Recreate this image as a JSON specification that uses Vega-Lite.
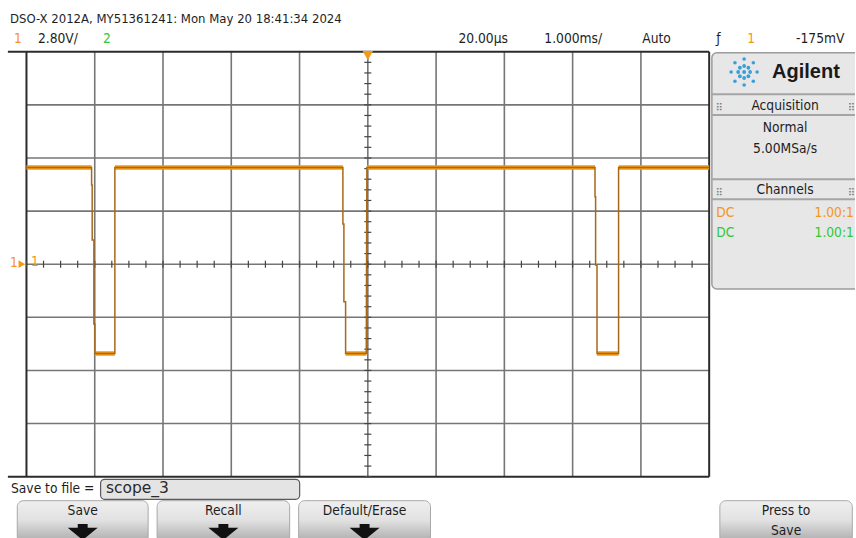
{
  "$schema": "https://vega.github.io/schema/vega-lite/v6.json",
  "width": 856,
  "height": 538,
  "autosize": {"type": "fit", "contains": "padding"},
  "padding": 0,
  "background": "white",
  "view": {"stroke": null},
  "config": {"font": "Liberation Sans Narrow, DejaVu Sans Condensed, Liberation Sans, sans-serif"},
  "datasets": {
    "panel": [{"t": 5.0395, "t2": 7.3, "v": 11.147, "v2": -1.307}],
    "panelLines": [
      {"t": 5.0395, "t2": 7.2, "v": 8.955, "v2": 8.955},
      {"t": 5.0395, "t2": 7.2, "v": 7.864, "v2": 7.864},
      {"t": 5.0395, "t2": 7.2, "v": 4.475, "v2": 4.475},
      {"t": 5.0395, "t2": 7.2, "v": 3.421, "v2": 3.421}
    ],
    "textbox": [{"t": -3.9144, "t2": -0.9985, "v": -11.337, "v2": -12.391}],
    "buttons": [
      {"t": -5.1346, "t2": -3.218, "v": -12.465, "v2": -14.7},
      {"t": -3.0863, "t2": -1.1448, "v": -12.465, "v2": -14.7},
      {"t": -1.0132, "t2": 0.9181, "v": -12.465, "v2": -14.7},
      {"t": 5.1566, "t2": 7.0966, "v": -12.465, "v2": -14.7}
    ],
    "arrows": [
      {"t": -4.1763, "v": -14.062},
      {"t": -2.1156, "v": -14.062},
      {"t": -0.0475, "v": -14.062}
    ],
    "grid": [
      {"t": -4, "t2": -4, "v": -11.2, "v2": 11.2},
      {"t": -3, "t2": -3, "v": -11.2, "v2": 11.2},
      {"t": -2, "t2": -2, "v": -11.2, "v2": 11.2},
      {"t": -1, "t2": -1, "v": -11.2, "v2": 11.2},
      {"t": 0, "t2": 0, "v": -11.2, "v2": 11.2},
      {"t": 1, "t2": 1, "v": -11.2, "v2": 11.2},
      {"t": 2, "t2": 2, "v": -11.2, "v2": 11.2},
      {"t": 3, "t2": 3, "v": -11.2, "v2": 11.2},
      {"t": 4, "t2": 4, "v": -11.2, "v2": 11.2},
      {"t": -5, "t2": 5, "v": -8.4, "v2": -8.4},
      {"t": -5, "t2": 5, "v": -5.6, "v2": -5.6},
      {"t": -5, "t2": 5, "v": -2.8, "v2": -2.8},
      {"t": -5, "t2": 5, "v": 0, "v2": 0},
      {"t": -5, "t2": 5, "v": 2.8, "v2": 2.8},
      {"t": -5, "t2": 5, "v": 5.6, "v2": 5.6},
      {"t": -5, "t2": 5, "v": 8.4, "v2": 8.4}
    ],
    "border": [
      {"t": -5, "t2": -5, "v": -11.2, "v2": 11.2},
      {"t": 5, "t2": 5, "v": -11.2, "v2": 11.2},
      {"t": -5.2722, "t2": 5, "v": 11.2, "v2": 11.2},
      {"t": -5.2722, "t2": 5, "v": -11.2, "v2": -11.2}
    ],
    "xticks": [
      {"t": -5, "v": 0}, {"t": -4.75, "v": 0}, {"t": -4.5, "v": 0}, {"t": -4.25, "v": 0},
      {"t": -4, "v": 0}, {"t": -3.75, "v": 0}, {"t": -3.5, "v": 0}, {"t": -3.25, "v": 0},
      {"t": -3, "v": 0}, {"t": -2.75, "v": 0}, {"t": -2.5, "v": 0}, {"t": -2.25, "v": 0},
      {"t": -2, "v": 0}, {"t": -1.75, "v": 0}, {"t": -1.5, "v": 0}, {"t": -1.25, "v": 0},
      {"t": -1, "v": 0}, {"t": -0.75, "v": 0}, {"t": -0.5, "v": 0}, {"t": -0.25, "v": 0},
      {"t": 0, "v": 0}, {"t": 0.25, "v": 0}, {"t": 0.5, "v": 0}, {"t": 0.75, "v": 0},
      {"t": 1, "v": 0}, {"t": 1.25, "v": 0}, {"t": 1.5, "v": 0}, {"t": 1.75, "v": 0},
      {"t": 2, "v": 0}, {"t": 2.25, "v": 0}, {"t": 2.5, "v": 0}, {"t": 2.75, "v": 0},
      {"t": 3, "v": 0}, {"t": 3.25, "v": 0}, {"t": 3.5, "v": 0}, {"t": 3.75, "v": 0},
      {"t": 4, "v": 0}, {"t": 4.25, "v": 0}, {"t": 4.5, "v": 0}, {"t": 4.75, "v": 0},
      {"t": 5, "v": 0}
    ],
    "yticks": [
      {"t": 0, "v": -11.2}, {"t": 0, "v": -10.64}, {"t": 0, "v": -10.08}, {"t": 0, "v": -9.52},
      {"t": 0, "v": -8.96}, {"t": 0, "v": -8.4}, {"t": 0, "v": -7.84}, {"t": 0, "v": -7.28},
      {"t": 0, "v": -6.72}, {"t": 0, "v": -6.16}, {"t": 0, "v": -5.6}, {"t": 0, "v": -5.04},
      {"t": 0, "v": -4.48}, {"t": 0, "v": -3.92}, {"t": 0, "v": -3.36}, {"t": 0, "v": -2.8},
      {"t": 0, "v": -2.24}, {"t": 0, "v": -1.68}, {"t": 0, "v": -1.12}, {"t": 0, "v": -0.56},
      {"t": 0, "v": 0}, {"t": 0, "v": 0.56}, {"t": 0, "v": 1.12}, {"t": 0, "v": 1.68},
      {"t": 0, "v": 2.24}, {"t": 0, "v": 2.8}, {"t": 0, "v": 3.36}, {"t": 0, "v": 3.92},
      {"t": 0, "v": 4.48}, {"t": 0, "v": 5.04}, {"t": 0, "v": 5.6}, {"t": 0, "v": 6.16},
      {"t": 0, "v": 6.72}, {"t": 0, "v": 7.28}, {"t": 0, "v": 7.84}, {"t": 0, "v": 8.4},
      {"t": 0, "v": 8.96}, {"t": 0, "v": 9.52}, {"t": 0, "v": 10.08}, {"t": 0, "v": 10.64},
      {"t": 0, "v": 11.2}
    ],
    "trace": [
      {"i": 0, "t": -5, "v": 5.097},
      {"i": 1, "t": -4.0461, "v": 5.097},
      {"i": 2, "t": -4.0461, "v": 4.174},
      {"i": 3, "t": -4.0373, "v": 4.174},
      {"i": 4, "t": -4.0373, "v": 1.275},
      {"i": 5, "t": -4.0124, "v": 1.275},
      {"i": 6, "t": -4.0124, "v": -3.152},
      {"i": 7, "t": -3.9978, "v": -3.152},
      {"i": 8, "t": -3.9978, "v": -4.707},
      {"i": 9, "t": -3.7052, "v": -4.707},
      {"i": 10, "t": -3.7052, "v": 5.097},
      {"i": 11, "t": -0.365, "v": 5.097},
      {"i": 12, "t": -0.365, "v": 2.119},
      {"i": 13, "t": -0.3504, "v": 2.119},
      {"i": 14, "t": -0.3504, "v": -1.976},
      {"i": 15, "t": -0.3255, "v": -1.976},
      {"i": 16, "t": -0.3255, "v": -4.707},
      {"i": 17, "t": -0.0227, "v": -4.707},
      {"i": 18, "t": -0.0139, "v": 5.097},
      {"i": 19, "t": 3.3277, "v": 5.097},
      {"i": 20, "t": 3.3277, "v": 3.558},
      {"i": 21, "t": 3.3365, "v": 3.558},
      {"i": 22, "t": 3.3365, "v": -0.042},
      {"i": 23, "t": 3.357, "v": -0.042},
      {"i": 24, "t": 3.357, "v": -4.707},
      {"i": 25, "t": 3.673, "v": -4.707},
      {"i": 26, "t": 3.673, "v": 5.097},
      {"i": 27, "t": 5, "v": 5.097}
    ],
    "levels": [
      {"t": -5, "t2": -4.0461, "v": 5.097},
      {"t": -3.7052, "t2": -0.365, "v": 5.097},
      {"t": -0.0139, "t2": 3.3277, "v": 5.097},
      {"t": 3.673, "t2": 5, "v": 5.097},
      {"t": -3.9978, "t2": -3.7052, "v": -4.707},
      {"t": -0.3255, "t2": -0.0227, "v": -4.707},
      {"t": 3.357, "t2": 3.673, "v": -4.707}
    ],
    "trigger": [{"t": 0, "v": 11.0}],
    "chmarker": [{"t": -5.0671, "v": 0}],
    "logo": [
      {"t": 5.5121, "v": 10.13, "ring": "c"},
      {"t": 5.5999, "v": 10.13, "ring": "i"},
      {"t": 5.5742, "v": 10.3536, "ring": "i"},
      {"t": 5.5121, "v": 10.4462, "ring": "i"},
      {"t": 5.45, "v": 10.3536, "ring": "i"},
      {"t": 5.4243, "v": 10.13, "ring": "i"},
      {"t": 5.45, "v": 9.9064, "ring": "i"},
      {"t": 5.5121, "v": 9.8138, "ring": "i"},
      {"t": 5.5742, "v": 9.9064, "ring": "i"},
      {"t": 5.7023, "v": 10.13, "ring": "o"},
      {"t": 5.6466, "v": 10.6145, "ring": "o"},
      {"t": 5.5121, "v": 10.8152, "ring": "o"},
      {"t": 5.3776, "v": 10.6145, "ring": "o"},
      {"t": 5.3219, "v": 10.13, "ring": "o"},
      {"t": 5.3776, "v": 9.6455, "ring": "o"},
      {"t": 5.5121, "v": 9.4448, "ring": "o"},
      {"t": 5.6466, "v": 9.6455, "ring": "o"}
    ],
    "headText": [
      {"t": -5.2415, "v": 12.713, "label": "DSO-X 2012A, MY51361241: Mon May 20 18:41:34 2024", "tone": "dark"}
    ],
    "leftText": [
      {"t": -5.1829, "v": 11.659, "label": "1", "tone": "orange"},
      {"t": -4.8318, "v": 11.659, "label": "2.80V/", "tone": "dark"},
      {"t": -3.8807, "v": 11.659, "label": "2", "tone": "green"},
      {"t": 1.3277, "v": 11.659, "label": "20.00µs", "tone": "dark"},
      {"t": 2.586, "v": 11.659, "label": "1.000ms/", "tone": "dark"},
      {"t": 4.0198, "v": 11.659, "label": "Auto", "tone": "dark"},
      {"t": 5.1024, "v": 11.659, "label": "ƒ", "tone": "dark"},
      {"t": 5.556, "v": 11.659, "label": "1", "tone": "orange"},
      {"t": 6.2729, "v": 11.659, "label": "-175mV", "tone": "dark"},
      {"t": 5.1024, "v": 2.504, "label": "DC", "tone": "orange"},
      {"t": 5.1024, "v": 1.418, "label": "DC", "tone": "green"},
      {"t": -5.2268, "v": -12.059, "label": "Save to file =", "tone": "dark"},
      {"t": -5.2415, "v": -0.148, "label": "1", "tone": "orange"},
      {"t": -4.9342, "v": -0.095, "label": "1", "tone": "orange"}
    ],
    "rightText": [
      {"t": 7.1207, "v": 2.504, "label": "1.00:1", "tone": "orange"},
      {"t": 7.1207, "v": 1.418, "label": "1.00:1", "tone": "green"}
    ],
    "centerText": [
      {"t": 6.1119, "v": 8.127, "label": "Acquisition", "tone": "dark"},
      {"t": 6.1119, "v": 6.984, "label": "Normal", "tone": "dark"},
      {"t": 6.1119, "v": 5.877, "label": "5.00MSa/s", "tone": "dark"},
      {"t": 6.1119, "v": 3.684, "label": "Channels", "tone": "dark"},
      {"t": -4.1763, "v": -13.219, "label": "Save", "tone": "dark"},
      {"t": -2.1156, "v": -13.219, "label": "Recall", "tone": "dark"},
      {"t": -0.0475, "v": -13.219, "label": "Default/Erase", "tone": "dark"},
      {"t": 6.1266, "v": -13.219, "label": "Press to", "tone": "dark"},
      {"t": 6.1266, "v": -14.273, "label": "Save", "tone": "dark"}
    ],
    "grips": [
      {"t": 5.1463, "v": 8.23, "label": "⠿"},
      {"t": 7.0849, "v": 8.23, "label": "⠿"},
      {"t": 5.1463, "v": 3.753, "label": "⠿"},
      {"t": 7.0849, "v": 3.753, "label": "⠿"}
    ],
    "brand": [{"t": 5.9217, "v": 9.798, "label": "Agilent"}],
    "filename": [{"t": -3.8368, "v": -12.059, "label": "scope_3"}]
  },
  "encoding": {
    "x": {"field": "t", "type": "quantitative", "scale": {"domain": [-5.3877, 7.136], "nice": false, "zero": false}, "axis": null},
    "y": {"field": "v", "type": "quantitative", "scale": {"domain": [-14.431, 13.925], "nice": false, "zero": false}, "axis": null}
  },
  "layer": [
    {
      "data": {"name": "panel"},
      "mark": {"type": "rect", "clip": true, "fill": "#e7e7e7", "stroke": "#9c9c9c", "strokeWidth": 1.5, "cornerRadius": 5},
      "encoding": {"x2": {"field": "t2"}, "y2": {"field": "v2"}}
    },
    {
      "data": {"name": "panelLines"},
      "mark": {"type": "rule", "clip": true, "color": "#a5a5a5", "strokeWidth": 2},
      "encoding": {"x2": {"field": "t2"}, "y2": {"field": "v2"}}
    },
    {
      "data": {"name": "textbox"},
      "mark": {"type": "rect", "fill": "#e4e4e4", "stroke": "#5a5a5a", "strokeWidth": 1.2, "cornerRadius": 4},
      "encoding": {"x2": {"field": "t2"}, "y2": {"field": "v2"}}
    },
    {
      "data": {"name": "buttons"},
      "mark": {
        "type": "rect",
        "clip": true,
        "cornerRadius": 6,
        "stroke": "#a8a8a8",
        "strokeWidth": 1,
        "fill": {"gradient": "linear", "x1": 0, "y1": 0, "x2": 0, "y2": 1, "stops": [{"offset": 0, "color": "#efefef"}, {"offset": 0.45, "color": "#e2e2e2"}, {"offset": 1, "color": "#a9a9a9"}]}
      },
      "encoding": {"x2": {"field": "t2"}, "y2": {"field": "v2"}}
    },
    {
      "data": {"name": "arrows"},
      "mark": {"type": "point", "clip": true, "filled": true, "opacity": 1, "color": "#111111", "size": 900, "shape": "M-0.33,-0.47 L0.33,-0.47 L0.33,-0.22 L1,-0.22 L0,0.6 L-1,-0.22 L-0.33,-0.22 Z"}
    },
    {
      "data": {"name": "grid"},
      "mark": {"type": "rule", "color": "#767676", "strokeWidth": 1.6},
      "encoding": {"x2": {"field": "t2"}, "y2": {"field": "v2"}}
    },
    {
      "data": {"name": "border"},
      "mark": {"type": "rule", "color": "#2b2b2b", "strokeWidth": 2},
      "encoding": {"x2": {"field": "t2"}, "y2": {"field": "v2"}}
    },
    {
      "data": {"name": "xticks"},
      "mark": {"type": "tick", "orient": "vertical", "size": 7, "thickness": 1.2, "color": "#444444", "opacity": 1}
    },
    {
      "data": {"name": "yticks"},
      "mark": {"type": "tick", "orient": "horizontal", "size": 7, "thickness": 1.2, "color": "#444444", "opacity": 1}
    },
    {
      "data": {"name": "levels"},
      "mark": {"type": "rule", "color": "#f39a12", "strokeWidth": 4.5},
      "encoding": {"x2": {"field": "t2"}}
    },
    {
      "data": {"name": "trace"},
      "mark": {"type": "line", "color": "#a8681a", "strokeWidth": 1.5},
      "encoding": {"order": {"field": "i", "type": "quantitative"}}
    },
    {
      "data": {"name": "trigger"},
      "mark": {"type": "point", "shape": "triangle-down", "filled": true, "opacity": 1, "color": "#f39a12", "size": 110}
    },
    {
      "data": {"name": "chmarker"},
      "mark": {"type": "point", "shape": "triangle-right", "filled": true, "opacity": 1, "color": "#f39a12", "size": 60}
    },
    {
      "data": {"name": "logo"},
      "mark": {"type": "point", "filled": true, "opacity": 1, "color": "#3a9fd8"},
      "encoding": {"size": {"field": "ring", "type": "ordinal", "scale": {"domain": ["c", "i", "o"], "range": [16, 13, 8]}, "legend": null}}
    },
    {
      "data": {"name": "headText"},
      "mark": {"type": "text", "align": "left", "baseline": "alphabetic", "fontSize": 13},
      "encoding": {
        "text": {"field": "label"},
        "color": {"field": "tone", "type": "nominal", "scale": {"domain": ["dark", "orange", "green"], "range": ["#1e1e1e", "#f5961c", "#34c734"]}, "legend": null}
      }
    },
    {
      "data": {"name": "leftText"},
      "mark": {"type": "text", "align": "left", "baseline": "alphabetic", "fontSize": 13.7},
      "encoding": {
        "text": {"field": "label"},
        "color": {"field": "tone", "type": "nominal", "scale": {"domain": ["dark", "orange", "green"], "range": ["#1e1e1e", "#f5961c", "#34c734"]}, "legend": null}
      }
    },
    {
      "data": {"name": "rightText"},
      "mark": {"type": "text", "align": "right", "baseline": "alphabetic", "fontSize": 13.7},
      "encoding": {
        "text": {"field": "label"},
        "color": {"field": "tone", "type": "nominal", "scale": {"domain": ["dark", "orange", "green"], "range": ["#1e1e1e", "#f5961c", "#34c734"]}, "legend": null}
      }
    },
    {
      "data": {"name": "centerText"},
      "mark": {"type": "text", "align": "center", "baseline": "alphabetic", "fontSize": 13.7},
      "encoding": {
        "text": {"field": "label"},
        "color": {"field": "tone", "type": "nominal", "scale": {"domain": ["dark", "orange", "green"], "range": ["#1e1e1e", "#f5961c", "#34c734"]}, "legend": null}
      }
    },
    {
      "data": {"name": "grips"},
      "mark": {"type": "text", "align": "center", "baseline": "middle", "fontSize": 10, "font": "DejaVu Sans", "color": "#777777"},
      "encoding": {"text": {"field": "label"}}
    },
    {
      "data": {"name": "brand"},
      "mark": {"type": "text", "align": "left", "baseline": "alphabetic", "fontSize": 20, "fontWeight": "bold", "font": "Liberation Sans", "color": "#1a1a1a"},
      "encoding": {"text": {"field": "label"}}
    },
    {
      "data": {"name": "filename"},
      "mark": {"type": "text", "align": "left", "baseline": "alphabetic", "fontSize": 15.5, "font": "DejaVu Sans", "color": "#2a2a2a"},
      "encoding": {"text": {"field": "label"}}
    }
  ]
}
